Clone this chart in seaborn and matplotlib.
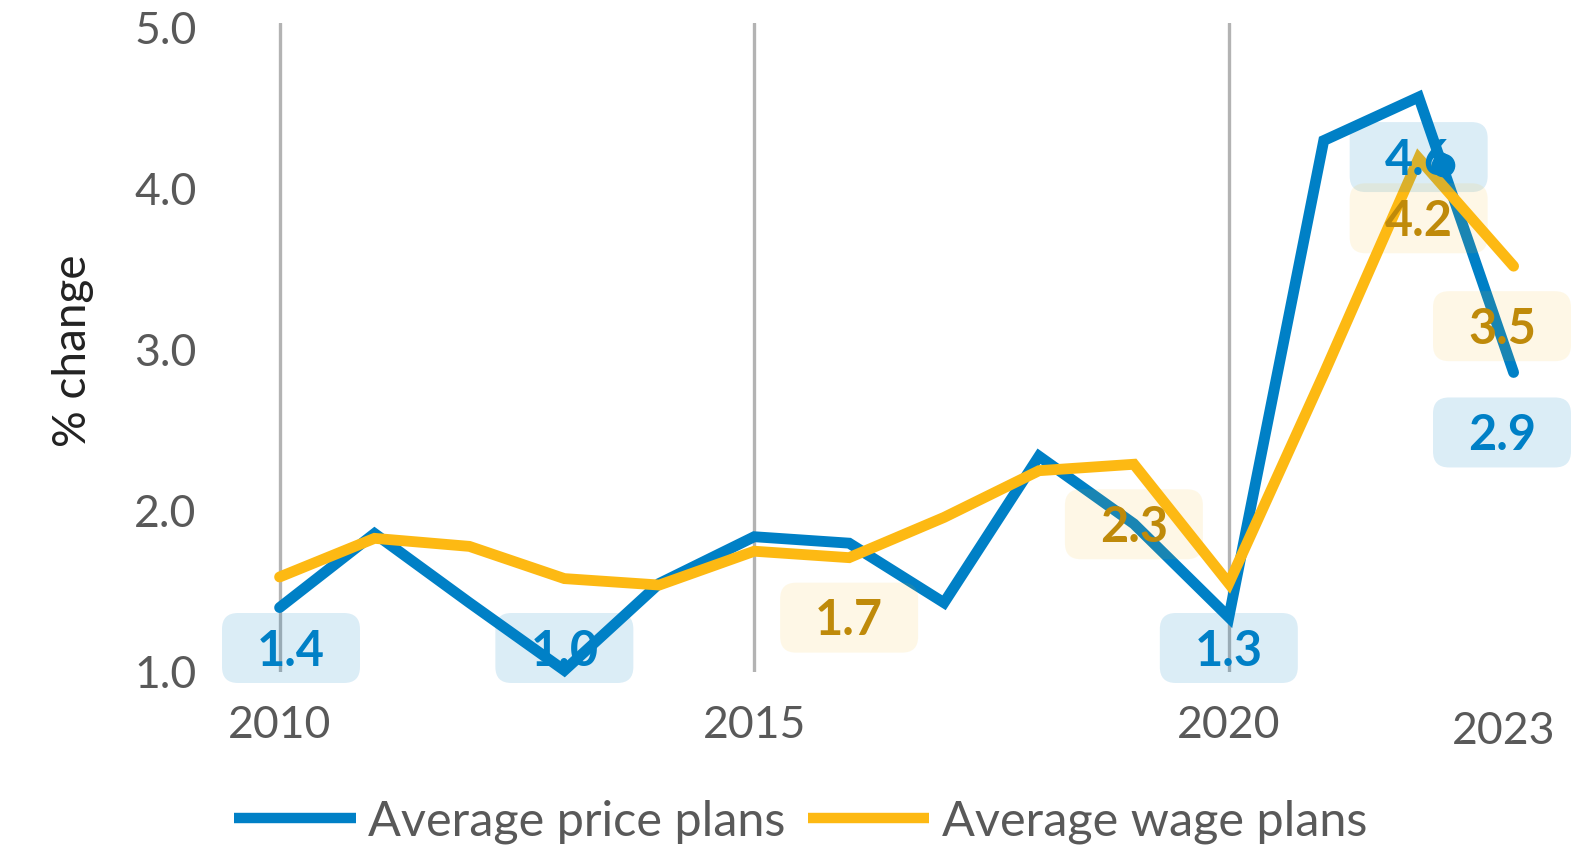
import numpy as np
import pandas as pd
import matplotlib
matplotlib.use("Agg")
import matplotlib.pyplot as plt
import matplotlib.transforms as mtransforms
from matplotlib.patches import FancyBboxPatch
from matplotlib.lines import Line2D
import seaborn as sns

# ---------------- data ----------------
years = [2010, 2011, 2012, 2013, 2014, 2015, 2016, 2017, 2018, 2019, 2020, 2021, 2022, 2023]
price_plans = [1.40, 1.86, 1.43, 1.01, 1.55, 1.84, 1.80, 1.43, 2.34, 1.92, 1.34, 4.30, 4.57, 2.86]
wage_plans = [1.59, 1.83, 1.78, 1.58, 1.54, 1.75, 1.71, 1.96, 2.25, 2.29, 1.55, 2.85, 4.19, 3.52]
series_names = ["Average price plans", "Average wage plans"]

# highlighted point on the price line
marker_x = [2022.26]
marker_y = [4.15]

# data labels: (series, year)
label_points = [
    ("Average price plans", 2010), ("Average price plans", 2013),
    ("Average price plans", 2020), ("Average price plans", 2022),
    ("Average price plans", 2023),
    ("Average wage plans", 2016), ("Average wage plans", 2019),
    ("Average wage plans", 2022), ("Average wage plans", 2023),
]

x_ticks = [2010, 2015, 2020]
y_ticks = [1.0, 2.0, 3.0, 4.0, 5.0]

# ---------------- style ----------------
BLUE = "#0080C6"
YELLOW = "#FDB913"
TEXT_BLUE = "#0080C6"
TEXT_YELLOW = "#BF8A0A"
GREY = "#595959"
W, H = 1577, 851

sns.set_theme(style="white")
plt.rcParams["font.family"] = ["Lato", "DejaVu Sans"]

df = pd.DataFrame({
    "year": years * 2,
    "value": price_plans + wage_plans,
    "series": [series_names[0]] * len(years) + [series_names[1]] * len(years),
})

fig = plt.figure(figsize=(W / 100, H / 100), dpi=100)
ax = fig.add_axes([216 / W, 1 - 672 / H, (1562 - 216) / W, (672 - 23) / H])

sns.lineplot(data=df, x="year", y="value", hue="series",
             palette=[BLUE, YELLOW], linewidth=7.8, ax=ax, legend=False,
             clip_on=False, zorder=3)
for ln in ax.get_lines():
    ln.set_solid_capstyle("round")
    ln.set_solid_joinstyle("miter")

ax.plot(marker_x, marker_y, "o", color=BLUE, markersize=16, zorder=6, clip_on=False)

ax.set_xlim(2009.33, 2023.51)
ax.set_ylim(1.0, 5.03)

for xv in x_ticks:
    ax.axvline(xv, color="#B3B3B3", linewidth=2.4, zorder=1)

ax.set_xticks(x_ticks)
ax.set_xticklabels([str(v) for v in x_ticks])
ax.set_yticks(y_ticks)
ax.set_yticklabels([f"{v:.1f}" for v in y_ticks])
ax.tick_params(axis="both", length=0, labelsize=32, labelcolor=GREY)
ax.tick_params(axis="y", pad=14)
ax.tick_params(axis="x", pad=24)
for s in ax.spines.values():
    s.set_visible(False)
ax.set_xlabel("")
ax.set_ylabel("")

ax.annotate("2023", xy=(2023, 0), xycoords=("data", "axes fraction"),
            xytext=(-10, -60), textcoords="offset pixels",
            ha="center", va="center", fontsize=32, color=GREY)

fig.text(72.5 / W, 1 - 351 / H, "% change", rotation=90,
         ha="center", va="center", fontsize=33, color="#222222")

# data labels with rounded boxes, 60 px below the point, kept inside the frame
values = {series_names[0]: dict(zip(years, price_plans)),
          series_names[1]: dict(zip(years, wage_plans))}
box_w, box_h = 138, 70
x_lo, x_hi = 222 + box_w / 2, 1571 - box_w / 2
y_lo = H - 648
for name, yr in label_points:
    val = values[name][yr]
    px, py = ax.transData.transform((yr, val))
    cx = min(max(px, x_lo), x_hi)
    cy = max(py - 60, y_lo)
    dx, dy = cx - px, cy - py
    is_price = name == series_names[0]
    fc = BLUE if is_price else YELLOW
    alpha = 0.14 if is_price else 0.10
    tc = TEXT_BLUE if is_price else TEXT_YELLOW
    trans = (mtransforms.Affine2D().translate(dx, dy)
             + mtransforms.ScaledTranslation(yr, val, ax.transData))
    box = FancyBboxPatch((-box_w / 2, -box_h / 2), box_w, box_h,
                         boxstyle="round,pad=0,rounding_size=16",
                         transform=trans, facecolor=fc, edgecolor="none",
                         alpha=alpha, zorder=4, clip_on=False)
    ax.add_patch(box)
    ax.annotate(f"{val:.1f}", xy=(yr, val), xytext=(dx, dy - 3),
                textcoords="offset pixels", ha="center", va="center",
                fontsize=35, fontweight="bold", color=tc, zorder=5)

handles = [Line2D([], [], color=BLUE, linewidth=7.5, solid_capstyle="butt"),
           Line2D([], [], color=YELLOW, linewidth=7.5, solid_capstyle="butt")]
fig.legend(handles, series_names, loc="center", bbox_to_anchor=(0.5076, 0.0344),
           ncol=2, frameon=False, fontsize=35, labelcolor=GREY,
           handlelength=2.5, handletextpad=0.25, columnspacing=0.47)

fig.savefig("out.png", dpi=100)
